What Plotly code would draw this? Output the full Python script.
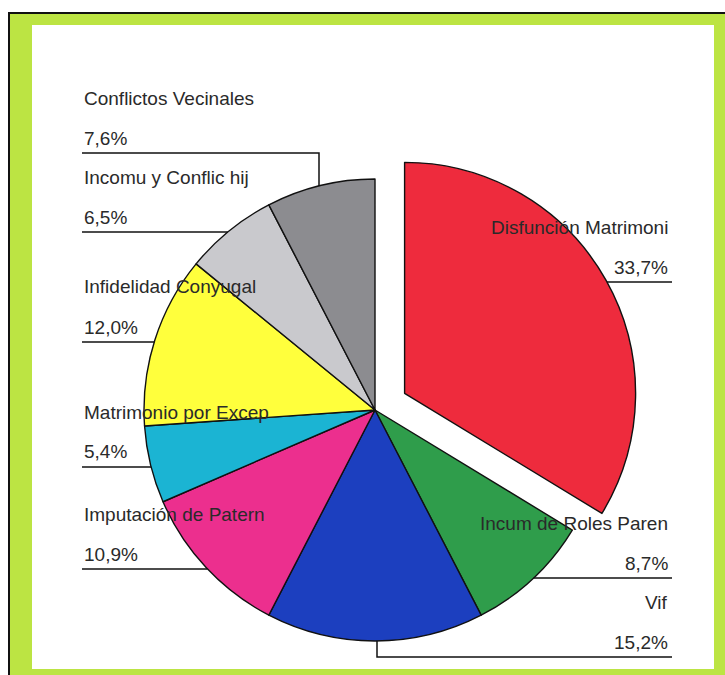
import math
import plotly.graph_objects as go

# ---- data -------------------------------------------------------------
categories = [
    "Disfunción Matrimoni",
    "Incum de Roles Paren",
    "Vif",
    "Imputación de Patern",
    "Matrimonio por Excep",
    "Infidelidad Conyugal",
    "Incomu y Conflic hij",
    "Conflictos Vecinales",
]
percentages = [33.7, 8.7, 15.2, 10.9, 5.4, 12.0, 6.5, 7.6]

# ---- style ------------------------------------------------------------
slice_colors = ["#EE2B3D", "#2F9D4B", "#1C3FBF", "#EC2F8E",
                "#1BB4D3", "#FFFF3C", "#C9C9CD", "#8C8C90"]
FONT = "Arial, Liberation Sans, sans-serif"
TEXT_COLOR = "#2a2a2a"
FONT_SIZE = 19

W, H = 725, 675
CX, CY, R = 375, 410, 231       # pie centre / radius in page pixels
PULL = 0.147                    # explode of the first slice

# label placement: (category index, side, underline y, elbow x or None)
label_layout = [
    (7, "left", 153, 319),
    (6, "left", 232, None),
    (5, "left", 342, None),
    (4, "left", 467, None),
    (3, "left", 569, None),
    (0, "right", 282, None),
    (1, "right", 578, None),
    (2, "right", 657, 377),
]
LEFT_X, RIGHT_X = 82, 672


def px(x):
    return x / W


def py(y):
    return 1 - y / H


def fmt_pct(v):
    return f"{v:.1f}".replace(".", ",") + "%"


# pie domain so that the plotted radius equals R
box = 2 * R * (1 + PULL)
dom_x = [max(0, (CX - box / 2) / W), min(1, (CX + box / 2) / W)]
dom_y = [max(0, (H - CY - box / 2) / H), min(1, (H - CY + box / 2) / H)]

pulls = [PULL] + [0] * (len(percentages) - 1)

fig = go.Figure(go.Pie(
    labels=categories,
    values=percentages,
    sort=False,
    direction="clockwise",
    rotation=0,
    pull=pulls,
    textinfo="none",
    hoverinfo="label+percent",
    marker=dict(colors=slice_colors, line=dict(color="#111111", width=1.4)),
    domain=dict(x=dom_x, y=dom_y),
    showlegend=False,
))

# centre of the exploded slice
total = sum(percentages)
mid = math.radians(percentages[0] / total * 360 / 2)
RCX = CX + PULL * R * math.sin(mid)
RCY = CY - PULL * R * math.cos(mid)


def edge_x(y, cx, cy, side):
    return cx + side * math.sqrt(max(R ** 2 - (y - cy) ** 2, 0))


def edge_y_below(x, cx, cy):
    return cy + math.sqrt(max(R ** 2 - (x - cx) ** 2, 0))


def edge_y_above(x, cx, cy):
    return cy - math.sqrt(max(R ** 2 - (x - cx) ** 2, 0))


shapes = [
    # green frame with black outer rule
    dict(type="rect", xref="paper", yref="paper", layer="below",
         x0=px(9), x1=px(740), y0=py(13), y1=py(700),
         fillcolor="#BCE443", line=dict(color="#111111", width=2)),
    dict(type="rect", xref="paper", yref="paper", layer="below",
         x0=px(32), x1=px(714), y0=py(25), y1=py(669),
         fillcolor="#FFFFFF", line=dict(width=0)),
]
annotations = []
line_style = dict(color="#111111", width=1.5)

for idx, side, uy, elbow in label_layout:
    name = categories[idx]
    pct = fmt_pct(percentages[idx])
    if side == "left":
        ax, anchor = LEFT_X, "left"
        if elbow is None:
            x_end = edge_x(uy, CX, CY, -1)
            shapes.append(dict(type="line", xref="paper", yref="paper",
                               x0=px(LEFT_X), x1=px(x_end), y0=py(uy), y1=py(uy),
                               line=line_style))
        else:
            shapes.append(dict(type="path", xref="paper", yref="paper",
                               path=f"M {px(LEFT_X)},{py(uy)} L {px(elbow)},{py(uy)} "
                                    f"L {px(elbow)},{py(edge_y_above(elbow, CX, CY))}",
                               line=line_style))
    else:
        ax, anchor = RIGHT_X - 2, "right"
        if elbow is None:
            cx, cy = (RCX, RCY) if idx == 0 else (CX, CY)
            x_start = edge_x(uy, cx, cy, 1)
            shapes.append(dict(type="line", xref="paper", yref="paper",
                               x0=px(x_start), x1=px(RIGHT_X), y0=py(uy), y1=py(uy),
                               line=line_style))
        else:
            shapes.append(dict(type="path", xref="paper", yref="paper",
                               path=f"M {px(elbow)},{py(edge_y_below(elbow, CX, CY))} "
                                    f"L {px(elbow)},{py(uy)} L {px(RIGHT_X)},{py(uy)}",
                               line=line_style))
    for text, dy in ((name, -55), (pct, -15)):
        annotations.append(dict(
            xref="paper", yref="paper", x=px(ax), y=py(uy + dy),
            xanchor=anchor, yanchor="middle", text=text, showarrow=False,
            font=dict(family=FONT, size=FONT_SIZE, color=TEXT_COLOR)))

fig.update_layout(
    width=W, height=H,
    margin=dict(l=0, r=0, t=0, b=0),
    paper_bgcolor="#FFFFFF",
    plot_bgcolor="#FFFFFF",
    shapes=shapes,
    annotations=annotations,
)

fig.write_html("out.html")
